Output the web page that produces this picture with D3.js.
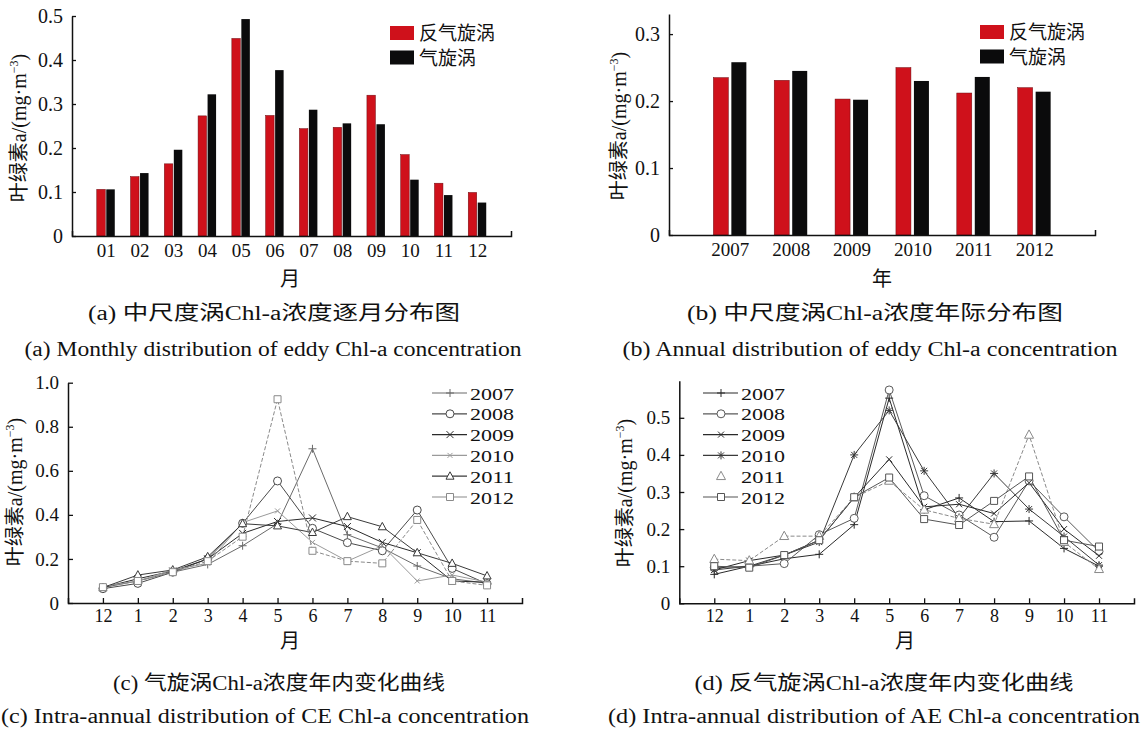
<!DOCTYPE html>
<html>
<head>
<meta charset="utf-8">
<script src="https://cdn.jsdelivr.net/npm/d3@7"></script>
<style>
  html, body { margin: 0; padding: 0; background: #fff; }
  svg { display: block; }
  text { fill: #111; }
</style>
</head>
<body>
<svg id="fig" width="1147" height="731"></svg>
<script>
// ---- data -------------------------------------------------------------
// (a) monthly mean Chl-a inside eddies, mg·m^-3
const months = ["01", "02", "03", "04", "05", "06", "07", "08", "09", "10", "11", "12"];
const monthlyAE = [0.106, 0.135, 0.164, 0.273, 0.449, 0.274, 0.244, 0.247, 0.320, 0.185, 0.120, 0.099];
const monthlyCE = [0.106, 0.143, 0.196, 0.322, 0.493, 0.377, 0.287, 0.256, 0.254, 0.128, 0.093, 0.076];

// (b) annual mean Chl-a inside eddies
const years = ["2007", "2008", "2009", "2010", "2011", "2012"];
const annualAE = [0.235, 0.231, 0.203, 0.250, 0.212, 0.220];
const annualCE = [0.258, 0.245, 0.202, 0.230, 0.236, 0.214];

// (c)/(d) intra-annual cycle, December through November
const cycleMonths = ["12", "1", "2", "3", "4", "5", "6", "7", "8", "9", "10", "11"];

const ce2007 = [0.070, 0.100, 0.140, 0.175, 0.260, 0.360, 0.700, 0.310, 0.250, 0.168, 0.110, 0.090];
const ce2008 = [0.065, 0.089, 0.140, 0.200, 0.362, 0.554, 0.339, 0.274, 0.237, 0.422, 0.157, 0.087];
const ce2009 = [0.070, 0.110, 0.145, 0.200, 0.316, 0.370, 0.386, 0.347, 0.275, 0.228, 0.100, 0.094];
const ce2010 = [0.075, 0.100, 0.150, 0.180, 0.365, 0.418, 0.275, 0.190, 0.260, 0.100, 0.127, 0.095];
const ce2011 = [0.070, 0.127, 0.150, 0.210, 0.360, 0.350, 0.320, 0.392, 0.346, 0.228, 0.180, 0.123];
const ce2012 = [0.072, 0.100, 0.140, 0.190, 0.301, 0.925, 0.237, 0.190, 0.180, 0.377, 0.100, 0.080];

const ae2007 = [0.078, 0.100, 0.120, 0.132, 0.212, 0.553, 0.252, 0.284, 0.220, 0.222, 0.148, 0.100];
const ae2008 = [0.096, 0.100, 0.107, 0.185, 0.229, 0.575, 0.290, 0.238, 0.178, 0.330, 0.233, 0.140];
const ae2009 = [0.090, 0.115, 0.130, 0.170, 0.285, 0.388, 0.260, 0.267, 0.242, 0.325, 0.200, 0.128];
const ae2010 = [0.090, 0.100, 0.130, 0.165, 0.400, 0.520, 0.357, 0.230, 0.350, 0.254, 0.180, 0.103];
const ae2011 = [0.119, 0.115, 0.181, 0.181, 0.285, 0.330, 0.252, 0.229, 0.213, 0.454, 0.165, 0.092];
const ae2012 = [0.100, 0.096, 0.130, 0.170, 0.286, 0.339, 0.227, 0.211, 0.276, 0.342, 0.170, 0.153];

const barTicksA = [0, 0.1, 0.2, 0.3, 0.4, 0.5];
const barTicksB = [0, 0.1, 0.2, 0.3];
const lineTicksC = [0, 0.2, 0.4, 0.6, 0.8, 1.0];
const lineTicksD = [0, 0.1, 0.2, 0.3, 0.4, 0.5];

// ---- styling ----------------------------------------------------------
const RED = "#cf111b";
const BLACK = "#0b0b0c";
const SERIF = "'Liberation Serif', 'Times New Roman', serif";
const CJK = "'Liberation Serif', 'Noto Sans CJK SC', serif";

const svg = d3.select("#fig");

function styleAxis(g) {
  g.select(".domain").attr("stroke", "#111").attr("stroke-width", 1.5);
  g.selectAll(".tick line").attr("stroke", "#111").attr("stroke-width", 1.3);
  g.selectAll(".tick text").attr("fill", "#111");
}

function yLabel(x, y, size) {
  const t = svg.append("text")
    .attr("transform", `translate(${x},${y}) rotate(-90)`)
    .attr("text-anchor", "middle")
    .attr("font-family", CJK)
    .attr("font-size", size);
  t.append("tspan").text("叶绿素a/(mg·m");
  t.append("tspan").attr("font-size", size * 0.6).attr("dy", -size * 0.4).text("−3");
  t.append("tspan").attr("dy", size * 0.4).text(")");
}

function plainText(x, y, str, size, opts = {}) {
  const t = svg.append("text")
    .attr("x", x).attr("y", y)
    .attr("text-anchor", opts.anchor || "middle")
    .attr("font-family", opts.family || CJK)
    .attr("font-size", size)
    .text(str);
  if (opts.length) t.attr("textLength", opts.length).attr("lengthAdjust", "spacingAndGlyphs");
  return t;
}

// ---- grouped bar panel ------------------------------------------------
function barPanel(cfg) {
  const x = d3.scaleLinear().domain(cfg.xDomain).range(cfg.xRange);
  const y = d3.scaleLinear().domain(cfg.yDomain).range(cfg.yRange);
  const g = svg.append("g");

  cfg.cats.forEach((c, i) => {
    const cx = x(cfg.xStart + i);
    g.append("rect")
      .attr("x", cx - cfg.barW - cfg.gap).attr("y", y(cfg.ae[i]))
      .attr("width", cfg.barW).attr("height", y(0) - y(cfg.ae[i]))
      .attr("fill", RED).attr("stroke", "#6d0b10").attr("stroke-width", 0.5);
    g.append("rect")
      .attr("x", cx + cfg.gap).attr("y", y(cfg.ce[i]))
      .attr("width", cfg.barW).attr("height", y(0) - y(cfg.ce[i]))
      .attr("fill", BLACK);
  });

  const ya = g.append("g").attr("transform", `translate(${cfg.xRange[0]},0)`)
    .call(d3.axisLeft(y).tickValues(cfg.yTicks).tickSizeInner(-4).tickSizeOuter(0).tickPadding(9)
      .tickFormat(d => d === 0 ? "0" : d3.format(".1f")(d)));
  ya.selectAll("text").attr("font-family", SERIF).attr("font-size", 20);
  styleAxis(ya);

  const xa = g.append("g").attr("transform", `translate(0,${y(0)})`)
    .call(d3.axisBottom(x).tickValues(d3.range(cfg.cats.length).map(i => cfg.xStart + i))
      .tickSizeInner(0).tickSizeOuter(-5).tickPadding(8)
      .tickFormat((d, i) => cfg.cats[i]));
  xa.selectAll("text").attr("font-family", SERIF).attr("font-size", 19);
  styleAxis(xa);

  // legend
  const lg = svg.append("g").attr("transform", `translate(${cfg.legend[0]},${cfg.legend[1]})`);
  [["反气旋涡", RED], ["气旋涡", BLACK]].forEach(([name, col], k) => {
    lg.append("rect").attr("x", 0).attr("y", k * 24.5).attr("width", 24).attr("height", 14)
      .attr("fill", col);
    lg.append("text").attr("x", 29).attr("y", k * 24.5 + 14)
      .attr("font-family", "'Noto Sans CJK SC', sans-serif").attr("font-size", 19)
      .text(name);
  });

  plainText(cfg.xTitle[0], cfg.xTitle[1], cfg.xTitleText, 20, { family: "'Noto Sans CJK SC', sans-serif" });
  yLabel(cfg.yTitle[0], cfg.yTitle[1], 20);
}

barPanel({
  cats: months, ae: monthlyAE, ce: monthlyCE,
  xDomain: [0, 13], xRange: [72, 511], xStart: 1,
  yDomain: [0, 0.5], yRange: [236, 16], yTicks: barTicksA,
  barW: 8.5, gap: 0.5,
  legend: [390, 26], xTitle: [290, 286], xTitleText: "月", yTitle: [26, 128]
});

barPanel({
  cats: years, ae: annualAE, ce: annualCE,
  xDomain: [2006, 2013], xRange: [669, 1095], xStart: 2007,
  yDomain: [0, 0.33], yRange: [235, 14], yTicks: barTicksB,
  barW: 15, gap: 1.5,
  legend: [980, 25], xTitle: [882, 286], xTitleText: "年", yTitle: [626, 126]
});

// ---- marker shapes ----------------------------------------------------
function markerPath(type, s) {
  switch (type) {
    case "plus": return `M${-s},0H${s}M0,${-s}V${s}`;
    case "cross": return `M${-s},${-s}L${s},${s}M${-s},${s}L${s},${-s}`;
    case "star": {
      const t = s * 0.75;
      return `M${-s},0H${s}M0,${-s}V${s}M${-t},${-t}L${t},${t}M${-t},${t}L${t},${-t}`;
    }
    case "circle": return `M${s},0A${s},${s},0,1,1,${-s},0A${s},${s},0,1,1,${s},0Z`;
    case "triangle": return `M0,${-s * 1.1}L${s},${s * 0.75}L${-s},${s * 0.75}Z`;
    case "square": return `M${-s},${-s}H${s}V${s}H${-s}Z`;
  }
}

// ---- multi-year line panel ---------------------------------------------
function linePanel(cfg) {
  const x = d3.scaleLinear().domain([-1, 12]).range(cfg.xRange);
  const y = d3.scaleLinear().domain(cfg.yDomain).range(cfg.yRange);
  const g = svg.append("g");
  const line = d3.line().x((d, i) => x(i)).y(d => y(d));

  cfg.series.forEach(s => {
    g.append("path").datum(s.values)
      .attr("d", line).attr("fill", "none")
      .attr("stroke", s.color).attr("stroke-width", 1)
      .attr("stroke-dasharray", s.dash || null);
  });
  cfg.series.forEach(s => {
    g.selectAll(null).data(s.values).join("path")
      .attr("transform", (d, i) => `translate(${x(i)},${y(d)})`)
      .attr("d", markerPath(s.marker, s.size))
      .attr("fill", ["circle", "triangle", "square"].includes(s.marker) ? "#fff" : "none")
      .attr("stroke", s.color).attr("stroke-width", 1);
  });

  const ya = g.append("g").attr("transform", `translate(${cfg.xRange[0]},0)`)
    .call(d3.axisLeft(y).tickValues(cfg.yTicks).tickSizeInner(-5).tickSizeOuter(0).tickPadding(9)
      .tickFormat(d => d === 0 ? "0" : d3.format(".1f")(d)));
  ya.selectAll("text").attr("font-family", SERIF).attr("font-size", 19);
  styleAxis(ya);

  const xa = g.append("g").attr("transform", `translate(0,${y(0)})`)
    .call(d3.axisBottom(x).tickValues(d3.range(12))
      .tickSizeInner(-5).tickSizeOuter(-5).tickPadding(6)
      .tickFormat(i => cycleMonths[i]));
  xa.selectAll("text").attr("font-family", SERIF).attr("font-size", 18);
  styleAxis(xa);

  // legend
  const lg = svg.append("g").attr("transform", `translate(${cfg.legend[0]},${cfg.legend[1]})`);
  cfg.series.forEach((s, k) => {
    const yy = k * 20.8;
    if (!s.noLegendLine) {
      lg.append("line").attr("x1", 0).attr("x2", 35).attr("y1", yy).attr("y2", yy)
        .attr("stroke", s.color).attr("stroke-width", 1.2);
    }
    lg.append("path").attr("transform", `translate(18,${yy})`)
      .attr("d", markerPath(s.marker, s.size))
      .attr("fill", ["circle", "triangle", "square"].includes(s.marker) ? "#fff" : "none")
      .attr("stroke", s.color).attr("stroke-width", 1);
    lg.append("text").attr("x", 38).attr("y", yy + 6.5)
      .attr("font-family", SERIF).attr("font-size", 17.5)
      .attr("textLength", 44).attr("lengthAdjust", "spacingAndGlyphs")
      .text(s.name);
  });

  plainText(cfg.xTitle[0], cfg.xTitle[1], "月", 20, { family: "'Noto Sans CJK SC', sans-serif" });
  yLabel(cfg.yTitle[0], cfg.yTitle[1], 20);
}

linePanel({
  xRange: [68, 522], yDomain: [0, 1.0], yRange: [603, 382.7], yTicks: lineTicksC,
  legend: [432, 393], xTitle: [290, 648], yTitle: [22, 492],
  series: [
    { name: "2007", values: ce2007, marker: "plus", size: 4, color: "#6a6a6a" },
    { name: "2008", values: ce2008, marker: "circle", size: 4, color: "#4a4a4a" },
    { name: "2009", values: ce2009, marker: "cross", size: 3.5, color: "#2a2a2a" },
    { name: "2010", values: ce2010, marker: "cross", size: 2.5, color: "#9a9a9a" },
    { name: "2011", values: ce2011, marker: "triangle", size: 4, color: "#3a3a3a" },
    { name: "2012", values: ce2012, marker: "square", size: 3.5, color: "#8a8a8a", dash: "4,2" }
  ]
});

linePanel({
  xRange: [679.3, 1134], yDomain: [0, 0.6], yRange: [603.3, 380.7], yTicks: lineTicksD,
  legend: [703, 393], xTitle: [905, 648], yTitle: [632, 493],
  series: [
    { name: "2007", values: ae2007, marker: "plus", size: 4, color: "#2a2a2a" },
    { name: "2008", values: ae2008, marker: "circle", size: 4, color: "#5a5a5a" },
    { name: "2009", values: ae2009, marker: "cross", size: 3, color: "#2a2a2a" },
    { name: "2010", values: ae2010, marker: "star", size: 4, color: "#3a3a3a" },
    { name: "2011", values: ae2011, marker: "triangle", size: 4.5, color: "#8a8a8a", dash: "4,2", noLegendLine: true },
    { name: "2012", values: ae2012, marker: "square", size: 3.5, color: "#555" }
  ]
});

// ---- panel captions ---------------------------------------------------
plainText(274, 320, "(a) 中尺度涡Chl-a浓度逐月分布图", 20, { length: 372 });
plainText(273, 356, "(a) Monthly distribution of eddy Chl-a concentration", 20, { length: 497 });
plainText(875, 320, "(b) 中尺度涡Chl-a浓度年际分布图", 20, { length: 376 });
plainText(870, 356, "(b) Annual distribution of eddy Chl-a concentration", 20, { length: 495 });
plainText(279, 690, "(c) 气旋涡Chl-a浓度年内变化曲线", 20, { length: 332 });
plainText(265, 723, "(c) Intra-annual distribution of CE Chl-a concentration", 20, { length: 528 });
plainText(884, 690, "(d) 反气旋涡Chl-a浓度年内变化曲线", 20, { length: 379 });
plainText(874, 723, "(d) Intra-annual distribution of AE Chl-a concentration", 20, { length: 532 });
</script>
</body>
</html>
